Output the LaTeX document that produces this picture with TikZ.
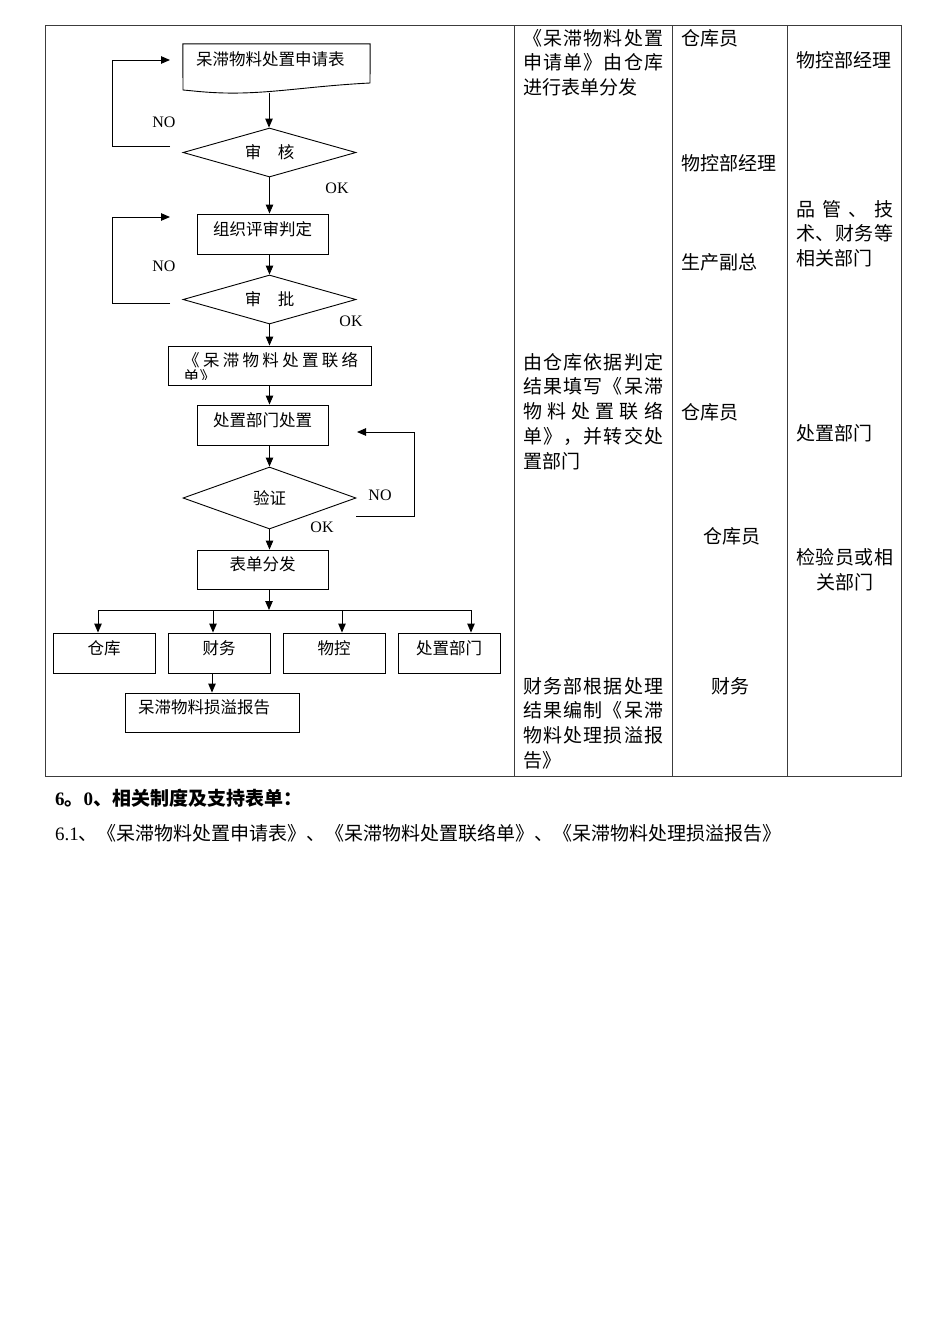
\documentclass[tikz,border=0pt]{standalone}
\usepackage{fontspec}
\setmainfont{Liberation Serif}
\newfontfamily\cjk{Noto Sans CJK SC}
\usetikzlibrary{shapes.geometric,arrows.meta}

% spread the characters of #2 evenly over width #1
\newcommand\sprd[2]{\makebox[#1][s]{\sprdloop#2\relax}}
\def\sprdloop#1{#1\futurelet\sprdnext\sprdcheck}
\def\sprdcheck{\ifx\sprdnext\relax\expandafter\sprdstop\else\hfil\expandafter\sprdloop\fi}
\def\sprdstop\relax{}

\tikzset{
  flowbox/.style={draw, line width=0.9pt, minimum width=131pt, minimum height=40pt,
    inner sep=0pt, text depth=11pt, font=\cjk\fontsize{16.5}{19}\selectfont},
  flowdia/.style={draw, diamond, shape aspect=3.5, line width=0.9pt, minimum width=173pt,
    minimum height=49pt, inner sep=0pt, font=\cjk\fontsize{16.5}{19}\selectfont},
  arr/.style={-{Triangle[length=9pt,width=7.5pt]}, line width=0.9pt},
  lbl/.style={inner sep=0pt, font=\fontsize{16}{18}\selectfont},
  coltext/.style={anchor=west, inner sep=0pt, font=\cjk\fontsize{19}{24}\selectfont},
  tbl/.style={line width=0.8pt, draw={rgb,255:red,60;green,60;blue,60}}
}

\begin{document}
\begin{tikzpicture}[x=1pt,y=-1pt]
\useasboundingbox (0,0) rectangle (950,1344);

%Table frame
\draw [tbl] (45,25) rectangle (901,776);
\draw [tbl] (514,25) -- (514,776);
\draw [tbl] (672,25) -- (672,776);
\draw [tbl] (787,25) -- (787,776);

%Shape: Document
\node [draw=none, minimum width=187pt, minimum height=47pt, inner xsep=13pt, inner ysep=0pt,
  text width=161pt, align=left, text depth=17pt, font=\cjk\fontsize{16.5}{19}\selectfont] (apply) at (276.5,67.5) {呆滞物料处置申请表};
\draw [line width=0.9pt] (apply.north west) -- (apply.north east) -- (370,83)
  .. controls (310,86) and (270,94) .. (225,93) .. controls (205,92.5) and (195,91) .. (183,90) -- cycle;
\coordinate (apply-out) at (269,92.5);

%Shape: Diamonds and boxes
\node [flowdia] (chk1) at (269.5,152.5) {审\hspace{1em}核};
\node [flowbox] (rev) at (262.5,234) {组织评审判定};
\node [flowdia] (chk2) at (269.5,299.5) {审\hspace{1em}批};
\node [flowbox, minimum width=203pt, minimum height=39pt] (notice) at (269.5,365.5) {};
\begin{scope}
  \clip (180,347) rectangle (362,379);
  \node [anchor=west, inner sep=0pt, font=\cjk\fontsize{16.5}{19}\selectfont] (notice-l1) at (183,360) {\sprd{175pt}{《呆滞物料处置联络}};
  \node [anchor=west, inner sep=0pt, font=\cjk\fontsize{16.5}{19}\selectfont] (notice-l2) at (183,377) {单》};
\end{scope}
\node [flowbox] (dispose) at (262.5,425) {处置部门处置};
\node [flowdia, shape aspect=2.8, minimum height=62pt] (verify) at (269.5,498) {验证};
\node [flowbox, minimum height=39pt] (issue) at (262.5,569.5) {表单分发};

%Shape: Receivers
\node [flowbox, minimum width=102pt] (wh) at (104,653) {仓库};
\node [flowbox, minimum width=102pt] (fin) at (219,653) {财务};
\node [flowbox, minimum width=102pt] (ctl) at (334,653) {物控};
\node [flowbox, minimum width=102pt] (dep) at (449,653) {处置部门};
\node [flowbox, minimum width=174pt, minimum height=39pt, text width=148pt, align=left] (rpt) at (212,712.5) {呆滞物料损溢报告};

%Straight Lines
\draw [arr] (apply-out) -- (apply-out |- chk1.north);
\draw [arr] (chk1.south) -- (chk1.south |- rev.north);
\draw [arr] (chk1.south |- rev.south) -- (chk2.north);
\draw [arr] (chk2.south) -- (chk2.south |- notice.north);
\draw [arr] (notice.south) -- (notice.south |- dispose.north);
\draw [arr] (notice.south |- dispose.south) -- (verify.north);
\draw [arr] (verify.south) -- (verify.south |- issue.north);

%Distribution bus
\coordinate (split) at (269,610);
\coordinate (b1) at (98,610);
\coordinate (b2) at (213,610);
\coordinate (b3) at (342,610);
\coordinate (b4) at (471,610);
\draw [arr] (split |- issue.south) -- (split);
\draw [line width=0.9pt] (b1) -- (b4);
\draw [arr] (b1) -- (b1 |- wh.north);
\draw [arr] (b2) -- (b2 |- fin.north);
\draw [arr] (b3) -- (b3 |- ctl.north);
\draw [arr] (b4) -- (b4 |- dep.north);
\draw [arr] (rpt.north |- fin.south) -- (rpt.north);

%Return loops
\coordinate (n1a) at (170,146);
\coordinate (n1b) at (170,60);
\coordinate (n2a) at (170,303);
\coordinate (n2b) at (170,217);
\coordinate (n3a) at (356,516);
\coordinate (n3b) at (357,432);
\draw [arr] (n1a) -- ++(-58,0) |- (n1b);
\draw [arr] (n2a) -- ++(-58,0) |- (n2b);
\draw [arr] (n3a) -- ++(58,0) |- (n3b);

% Text Node
\node [lbl] (no1) at (164,122) {NO};
\node [lbl] (ok1) at (337,188) {OK};
\node [lbl] (no2) at (164,266) {NO};
\node [lbl] (ok2) at (351,321) {OK};
\node [lbl] (no3) at (380,495) {NO};
\node [lbl] (ok3) at (322,527) {OK};

% Column 1: description
\node [coltext] (d1a) at (523,38) {\sprd{140pt}{《呆滞物料处置}};
\node [coltext] (d1b) at (523,62) {\sprd{140pt}{申请单》由仓库}};
\node [coltext] (d1c) at (523,87) {进行表单分发};
\node [coltext] (d2a) at (523,362) {\sprd{140pt}{由仓库依据判定}};
\node [coltext] (d2b) at (523,386) {\sprd{140pt}{结果填写《呆滞}};
\node [coltext] (d2c) at (523,411) {\sprd{140pt}{物料处置联络}};
\node [coltext] (d2d) at (523,436) {\sprd{140pt}{单》，并转交处}};
\node [coltext] (d2e) at (523,461) {置部门};
\node [coltext] (d3a) at (523,686) {\sprd{140pt}{财务部根据处理}};
\node [coltext] (d3b) at (523,710) {\sprd{140pt}{结果编制《呆滞}};
\node [coltext] (d3c) at (523,735) {\sprd{140pt}{物料处理损溢报}};
\node [coltext] (d3d) at (523,760) {告》};

% Column 2: executor
\node [coltext] (e1) at (681,38) {仓库员};
\node [coltext] (e2) at (681,163) {物控部经理};
\node [coltext] (e3) at (681,262) {生产副总};
\node [coltext] (e4) at (681,412) {仓库员};
\node [coltext] (e5) at (703,536) {仓库员};
\node [coltext] (e6) at (711,686) {财务};

% Column 3: responsible
\node [coltext] (r1) at (796,60) {物控部经理};
\node [coltext] (r2a) at (796,209) {\sprd{97pt}{品管、技}};
\node [coltext] (r2b) at (796,233) {\sprd{97pt}{术、财务等}};
\node [coltext] (r2c) at (796,258) {相关部门};
\node [coltext] (r3) at (796,433) {处置部门};
\node [coltext] (r4a) at (796,557) {\sprd{97pt}{检验员或相}};
\node [coltext, anchor=center] (r4b) at (845,582) {关部门};

% Text below the table
\node [anchor=west, inner sep=0pt, font=\fontsize{19}{22}\selectfont\bfseries] (sec) at (55,798) {6{\cjk 。}0{\cjk 、相关制度及支持表单：}};
\node [anchor=west, inner sep=0pt, font=\fontsize{19}{22}\selectfont] (forms) at (55,833) {6.1{\cjk 、《呆滞物料处置申请表》、《呆滞物料处置联络单》、《呆滞物料处理损溢报告》}};

\end{tikzpicture}
\end{document}
